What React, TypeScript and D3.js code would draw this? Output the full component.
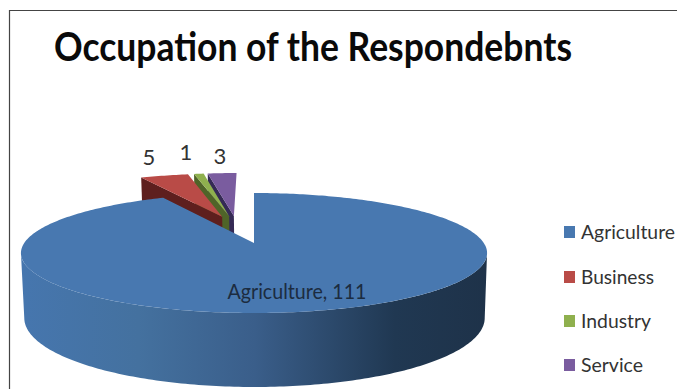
import React from "react";
import * as d3 from "d3";

const categories = ["Agriculture", "Business", "Industry", "Service"];
const values = [111, 5, 1, 3];
const topColors = ["#4878b0", "#b94b47", "#8fb04e", "#7a5c9f"];
const faceColors = ["#2b4a6f", "#5e1f1e", "#4f6428", "#352a55"];
const legendRows = [232, 277, 321, 365];
const legendWidths = [94, 73, 70, 62];
const labelSpots: [number, number][] = [[297, 292], [149, 157], [186, 152], [220, 156]];

// Perspective planes for the top and bottom faces of the disc.
const topPlane = { x0: 254, y0: 243, bx: 229.8, ay: 58.33 };
const bottomPlane = { x0: 254.5, y0: 306.5, bx: 227, ay: 67.08 };
const tilt = 1 / 6;

function project(p: typeof topPlane, u: number, v: number): [number, number] {
  const w = 1 + tilt * v;
  return [p.x0 + (p.bx * u) / w, p.y0 - (p.ay * v) / w];
}

const pieLayout = d3.pie<number>().sort(null).startAngle(0).endAngle(2 * Math.PI);
const slices = pieLayout(values);

// Offset applied to the pulled-out small slices, in disc units.
const groupShift: [number, number] = [-0.078, 0.285];
const explode = 0.215;

function sliceOrigin(i: number): [number, number] {
  if (i === 0) return [0, 0];
  const mid = (slices[i].startAngle + slices[i].endAngle) / 2;
  return [groupShift[0] + explode * Math.sin(mid), groupShift[1] + explode * Math.cos(mid)];
}

function rim(a0: number, a1: number, o: [number, number], p = topPlane): [number, number][] {
  const n = Math.max(4, Math.ceil(Math.abs(a1 - a0) * 60));
  return d3.range(n + 1).map((k) => {
    const a = a0 + ((a1 - a0) * k) / n;
    return project(p, o[0] + Math.sin(a), o[1] + Math.cos(a));
  });
}

const line = d3.line<[number, number]>();

export default function App() {
  // The silhouette of the projected disc touches its widest points here.
  const sideAngle = Math.acos(-tilt);
  const wallTop = rim(sideAngle, 2 * Math.PI - sideAngle, [0, 0], topPlane);
  const wallBottom = rim(2 * Math.PI - sideAngle, sideAngle, [0, 0], bottomPlane);
  const wallPath = line([...wallTop, ...wallBottom]) + "Z";

  const drawSlice = (i: number) => {
    const s = slices[i];
    const o = sliceOrigin(i);
    const apexTop = project(topPlane, o[0], o[1]);
    const apexBottom = project(bottomPlane, o[0], o[1]);
    const cornerU = o[0] + Math.sin(s.startAngle);
    const cornerV = o[1] + Math.cos(s.startAngle);
    const face = line([
      apexTop,
      project(topPlane, cornerU, cornerV),
      project(bottomPlane, cornerU, cornerV),
      apexBottom,
    ]) + "Z";
    const top = line([apexTop, ...rim(s.startAngle, s.endAngle, o)]) + "Z";
    return (
      <g key={categories[i]}>
        {i > 0 && <path d={face} fill={faceColors[i]} />}
        {i === 0 && <path d={wallPath} fill="url(#wallShade)" />}
        <path d={top} fill={topColors[i]} />
      </g>
    );
  };

  return (
    <svg
      width={677}
      height={389}
      style={{ position: "absolute", left: 0, top: 0, background: "#fff" }}
      fontFamily="Lato, 'Open Sans', sans-serif"
    >
      <defs>
        <linearGradient id="wallShade" gradientUnits="userSpaceOnUse" x1={22} x2={488} y1={0} y2={0}>
          <stop offset="0" stopColor="#4676ae" />
          <stop offset="0.25" stopColor="#44719f" />
          <stop offset="0.5" stopColor="#3a5e8a" />
          <stop offset="0.8" stopColor="#203852" />
          <stop offset="1" stopColor="#1e3249" />
        </linearGradient>
      </defs>

      <path d="M9.5 389V10.5H677" fill="none" stroke="#444" strokeWidth={1.2} />

      <text x={54} y={61} fontSize={41} fontWeight={700} fill="#0a0a0a" textLength={518} lengthAdjust="spacingAndGlyphs">
        Occupation of the Respondebnts
      </text>

      {[3, 2, 1, 0].map(drawSlice)}

      {categories.map((c, i) => (
        <text
          key={c}
          x={labelSpots[i][0]}
          y={labelSpots[i][1]}
          dy="0.35em"
          textAnchor="middle"
          fontSize={i === 0 ? 21 : 22}
          fill={i === 0 ? "#1c2c40" : "#333"}
          {...(i === 0 ? { textLength: 139, lengthAdjust: "spacingAndGlyphs" } : {})}
        >
          {i === 0 ? `${c}, ${values[i]}` : values[i]}
        </text>
      ))}

      {categories.map((c, i) => (
        <g key={c}>
          <rect x={564} y={legendRows[i] - 6} width={11} height={12} fill={topColors[i]} />
          <text
            x={581}
            y={legendRows[i]}
            dy="0.35em"
            fontSize={20}
            fill="#333"
            textLength={legendWidths[i]}
            lengthAdjust="spacingAndGlyphs"
          >
            {c}
          </text>
        </g>
      ))}
    </svg>
  );
}
